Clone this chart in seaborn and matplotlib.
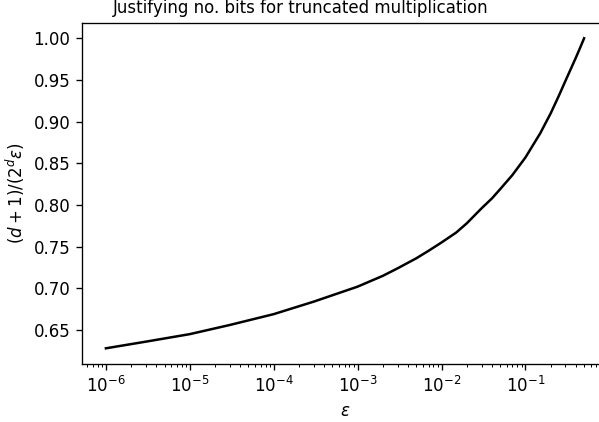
import seaborn as sns
import numpy as np
import pandas as pd
import matplotlib.pyplot as plt

# values
eps = [1e-6, 3e-6, 1e-5, 3e-5, 1e-4, 3e-4, 1e-3, 2e-3, 3e-3, 5e-3, 7e-3, 1e-2,
       1.5e-2, 2e-2, 3e-2, 4e-2, 5e-2, 7e-2, 0.1, 0.15, 0.2, 0.25, 0.3, 0.35,
       0.4, 0.45, 0.5]
ratio = [0.628, 0.636, 0.645, 0.656, 0.669, 0.684, 0.702, 0.715, 0.724, 0.736, 0.745, 0.755,
         0.767, 0.778, 0.796, 0.808, 0.819, 0.836, 0.857, 0.886, 0.910, 0.931, 0.949, 0.964,
         0.977, 0.989, 1.000]

df = pd.DataFrame({'eps': eps, 'ratio': ratio})

fig = plt.figure(figsize=(599 / 120, 422 / 120), dpi=120)
ax = fig.add_axes([82 / 599, (422 - 363.8) / 422, 526 / 599, 341 / 422])

sns.lineplot(data=df, x='eps', y='ratio', color='black', linewidth=1.5, ax=ax)
ax.set_xscale('log')
ax.set_xlabel(r'$\epsilon$')
ax.set_ylabel(r'$(d+1)/(2^d\epsilon)$')
ax.set_title('Justifying no. bits for truncated multiplication', x=0.416, fontsize=10)

fig.savefig('out.png', dpi=120)
